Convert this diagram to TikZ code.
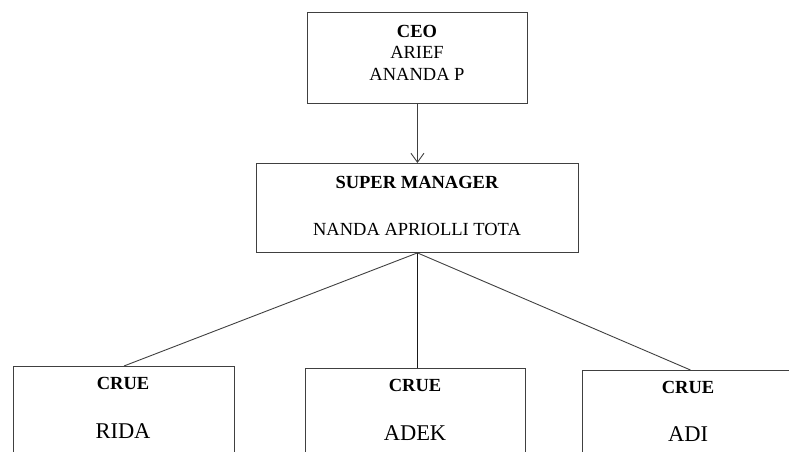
\documentclass[tikz,border=0pt]{standalone}
\usepackage{fontspec}
\setmainfont{Liberation Serif}
\usetikzlibrary{arrows.meta}
\begin{document}
\begin{tikzpicture}[x=1pt,y=-1pt,
  box/.style={draw=black!75,line width=0.9pt,inner sep=0pt,anchor=north west},
  lbl/.style={inner sep=0pt,font=\fontsize{18.5}{22}\selectfont},
  big/.style={inner sep=0pt,font=\fontsize{22.5}{26}\selectfont},
  conn/.style={draw=black!75,line width=0.9pt}]
\useasboundingbox (0,0) rectangle (789,452);
\begin{scope}
\clip (0,0) rectangle (789,452);
\node[box,minimum width=220pt,minimum height=91pt] (ceo) at (307,12) {};
\node[box,minimum width=322pt,minimum height=89pt] (sm) at (256,163) {};
\node[box,minimum width=221pt,minimum height=100pt] (rida) at (13,366) {};
\node[box,minimum width=220pt,minimum height=100pt] (adek) at (305,368) {};
\node[box,minimum width=216pt,minimum height=100pt] (adi) at (582,370) {};
\end{scope}
\node[lbl,font=\fontsize{18.5}{22}\selectfont\bfseries] (t1) at (417,31) {CEO};
\node[lbl] (t2) at (417,52) {ARIEF};
\node[lbl] (t3) at (417,74) {ANANDA P};
\node[lbl,font=\fontsize{18.5}{22}\selectfont\bfseries] (t4) at (417,182) {SUPER MANAGER};
\node[lbl] (t5) at (417,229) {NANDA APRIOLLI TOTA};
\node[lbl,font=\fontsize{18.5}{22}\selectfont\bfseries] (c1) at (123,383) {CRUE};
\node[big] (n1) at (123,431) {RIDA};
\node[lbl,font=\fontsize{18.5}{22}\selectfont\bfseries] (c2) at (415,385) {CRUE};
\node[big] (n2) at (415,433) {ADEK};
\node[lbl,font=\fontsize{18.5}{22}\selectfont\bfseries] (c3) at (688,387) {CRUE};
\node[big] (n3) at (688,434) {ADI};
\draw[conn,-{Straight Barb[length=9pt,width=13pt]}] (ceo.south) -- (sm.north);
\draw[conn] (sm.south) -- (rida.north);
\draw[conn,draw=black!90,line width=1.7pt] (sm.south) -- (sm.south |- adek.north);
\draw[conn] (sm.south) -- (adi.north);
\end{tikzpicture}
\end{document}
